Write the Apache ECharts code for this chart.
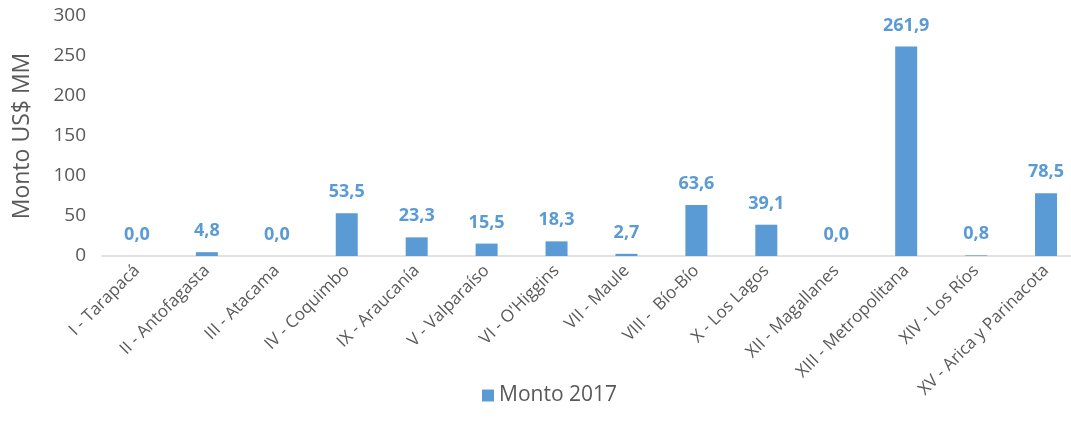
<!DOCTYPE html>
<html>
<head>
<meta charset="utf-8">
<script src="https://cdn.jsdelivr.net/npm/echarts@6/dist/echarts.min.js"></script>
<style>
  html, body { margin: 0; padding: 0; background: #fff; overflow: hidden; }
  #chart { width: 1100px; height: 425px; }
</style>
</head>
<body>
<div id="chart"></div>
<script>
// regiones y montos (US$ MM)
const regiones = ['I - Tarapacá', 'II - Antofagasta', 'III - Atacama', 'IV - Coquimbo', 'IX - Araucanía',
  'V - Valparaíso', "VI - O'Higgins", 'VII - Maule', 'VIII -  Bío-Bío', 'X - Los Lagos',
  'XII - Magallanes', 'XIII - Metropolitana', 'XIV - Los Ríos', 'XV - Arica y Parinacota'];
const monto2017 = [0.0, 4.8, 0.0, 53.5, 23.3, 15.5, 18.3, 2.7, 63.6, 39.1, 0.0, 261.9, 0.8, 78.5];

const font = '"Open Sans", sans-serif';
const gris = '#595959';
const azul = '#5B9BD5';

// el área del gráfico sobrepasa un poco el borde derecho, como en el original
const chart = echarts.init(document.getElementById('chart'));
chart.setOption({
  animation: false,
  textStyle: { fontFamily: font },
  grid: { left: 102, top: 16, width: 979, height: 240, containLabel: false },
  legend: {
    data: ['Monto 2017'],
    left: 477, top: 380,
    itemWidth: 12, itemHeight: 12, itemGap: 6,
    icon: 'rect',
    textStyle: { fontSize: 21, color: gris, fontFamily: font }
  },
  xAxis: {
    type: 'category',
    data: regiones,
    axisLine: { lineStyle: { color: '#D9D9D9', width: 1.5 } },
    axisTick: { show: false },
    axisLabel: { rotate: 45, color: gris, fontSize: 17, interval: 0, margin: 12, fontFamily: font }
  },
  yAxis: {
    type: 'value',
    min: 0, max: 300, interval: 50,
    name: 'Monto US$ MM',
    nameLocation: 'middle',
    nameGap: 68,
    nameTextStyle: { fontSize: 23, color: gris, fontFamily: font },
    axisLine: { show: false },
    axisTick: { show: false },
    splitLine: { show: false },
    axisLabel: { color: gris, fontSize: 19, margin: 16, fontFamily: font }
  },
  series: [{
    name: 'Monto 2017',
    type: 'bar',
    data: monto2017,
    barWidth: 22,
    itemStyle: { color: azul },
    label: {
      show: true,
      position: 'top',
      distance: 12,
      color: azul,
      fontWeight: 'bold',
      fontSize: 18,
      fontFamily: font,
      formatter: p => p.value.toFixed(1).replace('.', ',')
    }
  }]
});
</script>
</body>
</html>
